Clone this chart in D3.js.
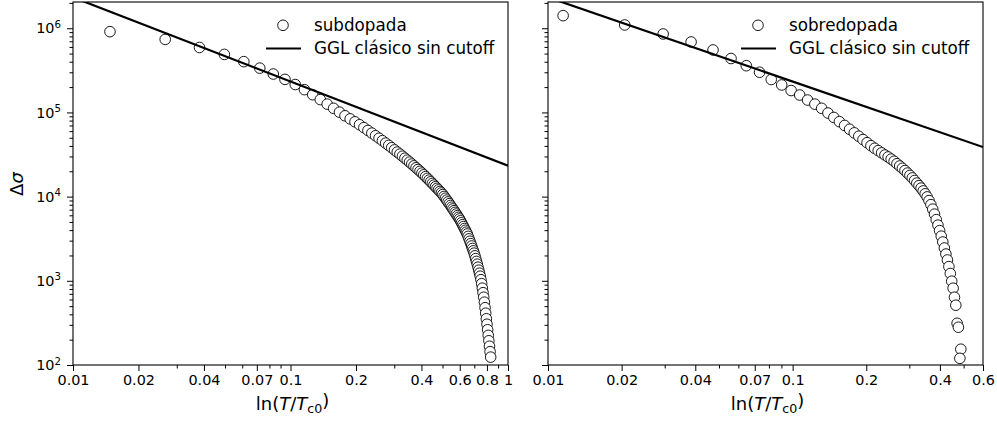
<!DOCTYPE html>
<html>
<head>
<meta charset="utf-8">
<script src="https://cdn.jsdelivr.net/npm/d3@7"></script>
<style>
  body { margin: 0; background: #fff; }
  text { font-family: "DejaVu Sans", sans-serif; fill: #000; }
</style>
</head>
<body>
<svg id="chart" width="997" height="421"></svg>
<script>
// ---- data ----
// subdopada: eps = ln(T/Tc0), delta sigma
var subEps = [
  0.01479, 0.02654, 0.03816, 0.04965, 0.06100, 0.07223, 0.08333, 0.09431, 0.10517, 0.11591,
  0.12654, 0.13706, 0.14747, 0.15777, 0.16797, 0.17806, 0.18805, 0.19795, 0.20774, 0.21745,
  0.22706, 0.23657, 0.24600, 0.25534, 0.26459, 0.27376, 0.28284, 0.29184, 0.30077, 0.30961,
  0.31838, 0.32707, 0.33568, 0.34422, 0.35269, 0.36109, 0.36941, 0.37767, 0.38586, 0.39399,
  0.40205, 0.41004, 0.41797, 0.42584, 0.43365, 0.44140, 0.44909, 0.45672, 0.46429, 0.47181,
  0.47926, 0.48667, 0.49401, 0.50131, 0.50855, 0.51574, 0.52288, 0.52997, 0.53701, 0.54400,
  0.55094, 0.55783, 0.56468, 0.57148, 0.57823, 0.58494, 0.59160, 0.59822, 0.60480, 0.61133,
  0.61782, 0.62427, 0.63068, 0.63704, 0.64337, 0.64965, 0.65590, 0.66211, 0.66828, 0.67441,
  0.68050, 0.68656, 0.69260, 0.69858, 0.70452, 0.71044, 0.71631, 0.72216, 0.72797, 0.73375,
  0.73950, 0.74521, 0.75089, 0.75654, 0.76216, 0.76774, 0.77329, 0.77882, 0.78431, 0.78977,
  0.79520, 0.80061, 0.80598, 0.81133, 0.81665, 0.82194, 0.82720, 0.83243
];
var subSigma = [
  9.11e5, 7.37e5, 5.91e5, 4.89e5, 4.01e5, 3.36e5, 2.86e5, 2.47e5, 2.145e5, 1.864e5,
  1.623e5, 1.421e5, 1.255e5, 1.119e5, 1.007e5, 9.12e4, 8.38e4, 7.74e4, 7.14e4, 6.60e4,
  6.11e4, 5.68e4, 5.29e4, 4.94e4, 4.62e4, 4.32e4, 4.06e4, 3.81e4, 3.59e4, 3.38e4,
  3.20e4, 3.02e4, 2.86e4, 2.71e4, 2.57e4, 2.44e4, 2.32e4, 2.20e4, 2.10e4, 2.00e4,
  1.905e4, 1.814e4, 1.728e4, 1.648e4, 1.572e4, 1.501e4, 1.434e4, 1.371e4, 1.311e4, 1.255e4,
  1.202e4, 1.152e4, 1.105e4, 1.058e4, 1.005e4, 9560, 9090, 8650, 8240, 7850,
  7480, 7140, 6810, 6500, 6210, 5930, 5670, 5430, 5160, 4890,
  4640, 4410, 4180, 3980, 3780, 3600, 3370, 3150, 2950, 2760,
  2590, 2420, 2270, 2130, 1980, 1835, 1700, 1575, 1451, 1337,
  1231, 1134, 1031, 924, 817, 722, 638, 557, 479, 412,
  354, 305, 262, 225, 194, 167, 144, 124
];

// sobredopada
var sobEps = [
  0.01153, 0.02059, 0.02956, 0.03845, 0.04727, 0.05600, 0.06466, 0.07325, 0.08176, 0.09022,
  0.09858, 0.10688, 0.11511, 0.12328, 0.13138, 0.13942, 0.14739, 0.15529, 0.16314, 0.17093,
  0.17865, 0.18631, 0.19392, 0.20147, 0.20897, 0.21641, 0.22379, 0.23111, 0.23839, 0.24561,
  0.25278, 0.25990, 0.26697, 0.27399, 0.28096, 0.28788, 0.29476, 0.30158, 0.30837, 0.31510,
  0.32179, 0.32844, 0.33504, 0.34160, 0.34812, 0.35459, 0.36103, 0.36742, 0.37377, 0.38008,
  0.38635, 0.39258, 0.39878, 0.40493, 0.41105, 0.41713, 0.42318, 0.42918, 0.43515, 0.44109,
  0.44699, 0.45286, 0.45869, 0.46449, 0.47026, 0.47599, 0.48700, 0.48260
];
var sobSigma = [
  1.412e6, 1.094e6, 8.55e5, 6.87e5, 5.52e5, 4.37e5, 3.59e5, 3.00e5, 2.46e5, 2.12e5,
  1.82e5, 1.61e5, 1.404e5, 1.255e5, 1.119e5, 9.84e4, 8.72e4, 7.77e4, 7.00e4, 6.31e4,
  5.72e4, 5.21e4, 4.76e4, 4.37e4, 4.03e4, 3.75e4, 3.52e4, 3.31e4, 3.12e4, 2.96e4,
  2.79e4, 2.63e4, 2.46e4, 2.31e4, 2.17e4, 2.04e4, 1.903e4, 1.787e4, 1.669e4, 1.554e4,
  1.447e4, 1.351e4, 1.262e4, 1.169e4, 1.080e4, 9920, 8970, 8030, 7100, 6195,
  5326, 4584, 3942, 3391, 2890, 2450, 2080, 1768, 1475, 1221,
  989, 817, 638, 513, 313, 281, 154, 120
];

// GGL clasico sin cutoff (straight line in log-log)
var gglLeftEps = [0.01, 1];
var gglLeftSigma = [2.33e6, 2.33e4];
var gglRightEps = [0.01, 0.6];
var gglRightSigma = [2.33e6, 3.88e4];

// ticks
var leftXTicks = [0.01, 0.02, 0.04, 0.07, 0.1, 0.2, 0.4, 0.6, 0.8, 1];
var leftXMinor = [0.03, 0.05, 0.06, 0.08, 0.09, 0.3, 0.5, 0.7, 0.9];
var rightXTicks = [0.01, 0.02, 0.04, 0.07, 0.1, 0.2, 0.4, 0.6];
var rightXMinor = [0.03, 0.05, 0.06, 0.08, 0.09, 0.3, 0.5];
var yTicks = [1e2, 1e3, 1e4, 1e5, 1e6];

var yMin = 1e2, yMax = 2.05e6;
var plotTop = 2, plotBottom = 365;

var svg = d3.select("#chart");

var yMinor = [];
[2, 3, 4, 5, 6].forEach(function(k) {
  d3.range(2, 10).forEach(function(m) {
    var v = m * Math.pow(10, k);
    if (v < yMax) yMinor.push(v);
  });
});

function drawPanel(p) {
  var x = d3.scaleLog().domain([0.01, p.xMax]).range([p.x0, p.x1]);
  var y = d3.scaleLog().domain([yMin, yMax]).range([plotBottom, plotTop]);

  var g = svg.append("g");

  g.append("clipPath").attr("id", p.id)
    .append("rect")
    .attr("x", p.x0).attr("y", plotTop)
    .attr("width", p.x1 - p.x0).attr("height", plotBottom - plotTop);

  var pts = p.eps.map(function(e, i) { return { e: e, s: p.sigma[i] }; });

  g.append("g").attr("clip-path", "url(#" + p.id + ")")
    .selectAll("circle")
    .data(pts)
    .join("circle")
      .attr("cx", d => x(d.e))
      .attr("cy", d => y(d.s))
      .attr("r", 5.3)
      .style("fill", "#fff")
      .style("stroke", "#000")
      .style("stroke-width", 0.9);

  var line = d3.line().x(d => x(d[0])).y(d => y(d[1]));
  g.append("path")
    .attr("clip-path", "url(#" + p.id + ")")
    .datum(p.gglEps.map(function(e, i) { return [e, p.gglSigma[i]]; }))
    .attr("d", line)
    .style("fill", "none")
    .style("stroke", "#000")
    .style("stroke-width", 2.2);

  // frame
  g.append("rect")
    .attr("x", p.x0).attr("y", plotTop)
    .attr("width", p.x1 - p.x0).attr("height", plotBottom - plotTop)
    .style("fill", "none").style("stroke", "#000").style("stroke-width", 1.1);

  // x axis
  var xMaj = g.append("g").attr("transform", `translate(0,${plotBottom})`)
    .call(d3.axisBottom(x).tickValues(p.xTicks).tickFormat(d => String(d)).tickSize(6).tickPadding(4));
  var xMin = g.append("g").attr("transform", `translate(0,${plotBottom})`)
    .call(d3.axisBottom(x).tickValues(p.xMinor).tickFormat("").tickSize(3.5));

  // y axis
  var yMaj = g.append("g").attr("transform", `translate(${p.x0},0)`)
    .call(d3.axisLeft(y).tickValues(yTicks).tickSize(6).tickPadding(6));
  var yMinG = g.append("g").attr("transform", `translate(${p.x0},0)`)
    .call(d3.axisLeft(y).tickValues(yMinor).tickFormat("").tickSize(3.5));

  [xMaj, xMin, yMaj, yMinG].forEach(function(a) {
    a.select(".domain").remove();
    a.selectAll("line").style("stroke", "#000").style("stroke-width", 1);
  });
  xMaj.selectAll("text").style("font-size", "14.4px").style("font-family", "DejaVu Sans");

  if (p.yLabels) {
    yMaj.selectAll("text")
      .style("font-size", "14.4px").style("font-family", "DejaVu Sans")
      .text(null)
      .call(function(t) {
        t.append("tspan").text("10");
        t.append("tspan").attr("dy", "-0.55em").style("font-size", "10.2px")
          .text(d => Math.round(Math.log10(d)));
      });
  } else {
    yMaj.selectAll("text").remove();
  }

  // x label
  var cx = (p.x0 + p.x1) / 2 + 2;
  var xl = g.append("text").attr("x", cx).attr("y", 410)
    .attr("text-anchor", "middle").style("font-size", "18px");
  xl.append("tspan").text("ln(");
  xl.append("tspan").style("font-style", "italic").text("T");
  xl.append("tspan").text("/");
  xl.append("tspan").style("font-style", "italic").text("T");
  xl.append("tspan").attr("dy", "0.25em").style("font-size", "12.6px").text("c0");
  xl.append("tspan").attr("dy", "-0.32em").text(")");

  // legend
  var lx = p.x0 + 210;
  g.append("circle").attr("cx", lx).attr("cy", 25.3).attr("r", 5.3)
    .style("fill", "#fff").style("stroke", "#000").style("stroke-width", 0.9);
  g.append("text").attr("x", p.x0 + 241).attr("y", 30.5)
    .style("font-size", "16.75px").text(p.name);
  g.append("line").attr("x1", p.x0 + 193).attr("x2", p.x0 + 228)
    .attr("y1", 48.5).attr("y2", 48.5)
    .style("stroke", "#000").style("stroke-width", 2.2);
  g.append("text").attr("x", p.x0 + 241).attr("y", 54)
    .style("font-size", "16.75px").text("GGL clásico sin cutoff");
}

drawPanel({
  id: "clipL", x0: 73, x1: 508, xMax: 1,
  eps: subEps, sigma: subSigma, gglEps: gglLeftEps, gglSigma: gglLeftSigma,
  xTicks: leftXTicks, xMinor: leftXMinor, yLabels: true, name: "subdopada"
});
drawPanel({
  id: "clipR", x0: 548, x1: 983, xMax: 0.6,
  eps: sobEps, sigma: sobSigma, gglEps: gglRightEps, gglSigma: gglRightSigma,
  xTicks: rightXTicks, xMinor: rightXMinor, yLabels: false, name: "sobredopada"
});

// y label
var yl = svg.append("text")
  .attr("transform", "translate(23,184) rotate(-90)")
  .attr("text-anchor", "middle").style("font-size", "18px");
yl.append("tspan").text("Δ");
yl.append("tspan").style("font-style", "italic").text("σ");
</script>
</body>
</html>
